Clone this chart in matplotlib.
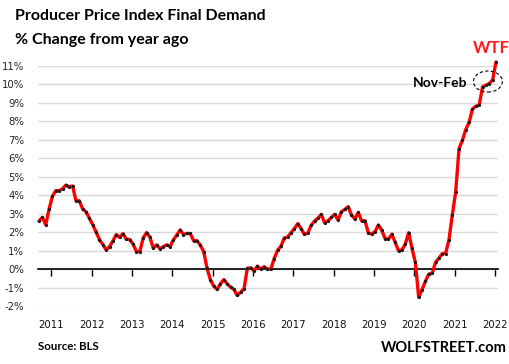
import matplotlib
matplotlib.use('Agg')
import matplotlib.pyplot as plt
from matplotlib.patches import Ellipse
import numpy as np

# Monthly PPI Final Demand, % change from year ago, Nov 2010 .. Mar 2022
ppi_yoy = [
    2.6, 2.8, 2.4, 3.25, 3.95, 4.25, 4.25, 4.35, 4.55, 4.45, 4.5, 3.7, 3.7, 3.25, 3.1, 2.75, 2.4, 2.0, 1.6,
    1.33, 1.04, 1.22, 1.53, 1.87, 1.72, 1.92, 1.62, 1.6, 1.35, 0.95, 0.95, 1.68, 1.98, 1.73, 1.13, 1.31,
    1.1, 1.22, 1.31, 1.22, 1.58, 1.85, 2.12,
    1.87, 1.93, 1.93, 1.54, 1.54, 1.3, 0.95, 0.05, -0.57, -0.93, -1.1, -0.79, -0.57, -0.79, -0.98, -1.1,
    -1.43, -1.25, -1.07,
    0.04, 0.07, -0.09, 0.16, 0.0, 0.13, 0.0, 0.0, 0.57, 1.02, 1.24, 1.68, 1.74, 1.97, 2.19, 2.46, 2.19,
    1.88, 1.95, 2.37, 2.6, 2.76, 2.96,
    2.51, 2.62, 2.8, 2.96, 2.66, 3.11, 3.23, 3.38, 2.93, 2.71, 3.07, 2.62, 2.62, 1.97, 1.9, 2.03, 2.39,
    2.1, 1.65, 1.62, 1.89, 1.45, 0.99, 1.04, 1.35, 1.97, 1.13, 0.36, -1.53, -1.11, -0.66, -0.27, -0.23,
    0.36, 0.59, 0.83, 0.84, 1.58, 2.93, 4.18, 6.52, 6.97, 7.56, 7.95, 8.67, 8.82, 8.89, 9.87, 9.96,
    10.05, 10.25, 11.22,
]
start_year, start_month = 2010, 11
year_labels = ['2011', '2012', '2013', '2014', '2015', '2016', '2017', '2018', '2019', '2020', '2021', '2022']
y_values = list(range(-2, 12))
y_labels = [f'{v}%' for v in y_values]

W, H = 510, 364
fig = plt.figure(figsize=(W / 100, H / 100), dpi=100)
fig.patch.set_facecolor('white')
ax = fig.add_axes([38 / W, 1 - 306 / H, 460 / W, 240 / H])

months = np.arange(len(ppi_yoy))
ax.plot(months, ppi_yoy, color='#ff0000', lw=2.4, solid_joinstyle='round',
        solid_capstyle='round', clip_on=False, zorder=3)
ax.plot(months, ppi_yoy, ls='none', marker='o', ms=2.3, mec='none', color='#1a1a1a',
        clip_on=False, zorder=4)

ax.set_xlim(-0.3, 136.6)
ax.set_ylim(-2, 11)

# y axis
ax.set_yticks(y_values)
ax.set_yticklabels(y_labels, fontsize=7.3, color='#222222', family='DejaVu Sans')
ax.tick_params(axis='y', length=0, pad=10)
ax.yaxis.grid(True, color='#d9d9d9', lw=1.0)
ax.set_axisbelow(True)
for s in ['left', 'right', 'top']:
    ax.spines[s].set_visible(False)

# x axis line at zero with tick marks
jan_index = [(int(y) - start_year) * 12 + (1 - start_month) for y in year_labels]
tick_pos = [j + 1.7 for j in jan_index]
ax.spines['bottom'].set_position(('data', 0))
ax.spines['bottom'].set_color('black')
ax.spines['bottom'].set_linewidth(1.2)
ax.set_xticks(tick_pos)
ax.tick_params(axis='x', length=5, width=1.0, direction='out', color='black', labelbottom=False)

# year labels along the bottom
sec = ax.secondary_xaxis(-0.0)
sec.set_xticks(tick_pos)
sec.set_xticklabels(year_labels, fontsize=7.3, color='#111111', family='DejaVu Sans')
sec.tick_params(length=0, pad=10)
sec.spines['bottom'].set_visible(False)

# titles
fig.text(15 / W, 1 - 19.5 / H, 'Producer Price Index Final Demand', fontsize=11.5,
         fontweight='bold', family='Lato', color='black', va='baseline')
fig.text(15 / W, 1 - 44 / H, '% Change from year ago', fontsize=11.5,
         fontweight='bold', family='Lato', color='black', va='baseline')
fig.text(38 / W, 1 - 350 / H, 'Source: BLS', fontsize=8.3,
         fontweight='bold', family='Lato', color='black', va='baseline')
fig.text(507 / W, 1 - 351.5 / H, 'WOLFSTREET.com', fontsize=10.5,
         fontweight='bold', family='Lato', color='black', va='baseline', ha='right')

# annotations
fig.text(413 / W, 1 - 87 / H, 'Nov-Feb', fontsize=10, fontweight='bold', family='Lato',
         color='black', va='baseline')
fig.text(473 / W, 1 - 53 / H, 'WTF', fontsize=12, fontweight='bold', family='Lato',
         color='#ff1a1a', va='baseline')
ax.add_patch(Ellipse((133.6, 10.16), 8.6, 1.14, fill=False, ec='black', lw=0.8,
                     ls=(0, (3, 2)), clip_on=False, zorder=5))

fig.savefig('out.png', dpi=100, facecolor='white')
